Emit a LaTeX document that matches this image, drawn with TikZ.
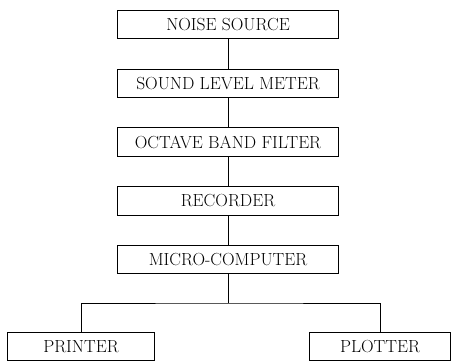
\documentclass[tikz,border=0pt]{standalone}
\usetikzlibrary{positioning}

\begin{document}
\begin{tikzpicture}[x=1pt, y=-1pt,
    stage/.style={draw, line width=0.9pt, minimum width=221pt,
      minimum height=28.5pt, inner sep=0pt},
    sink/.style={stage, minimum width=147pt},
    link/.style={line width=0.9pt}]
  %% Page frame in pixel units, y running downwards.
  \useasboundingbox (0,0) rectangle (451,362);
  \fontsize{17.5}{20}\selectfont

  \def\sx{228}
  \def\dy{58.75}

  %% Measuring chain, one stage under the other.
  \foreach \n/\lab [count=\i from 0] in {src/NOISE SOURCE,
      slm/SOUND LEVEL METER, obf/OCTAVE BAND FILTER,
      rec/RECORDER, mc/MICRO-COMPUTER} {
    \node[stage] (\n) at (\sx, 24.5 + \i*\dy) {\lab};
  }
  \foreach \a/\b in {src/slm, slm/obf, obf/rec, rec/mc}
    \draw[link] (\a) -- (\b);

  %% Output devices.
  \node[sink] (prn) at (81, 346.5) {PRINTER};
  \node[sink, minimum width=141pt] (plt) at (380, 346.5) {PLOTTER};

  \coordinate (split) at (\sx, 303);
  \draw[link] (mc) -- (split);
  \draw[link] (prn.north) |- (split) -| (plt.north);
\end{tikzpicture}
\end{document}
